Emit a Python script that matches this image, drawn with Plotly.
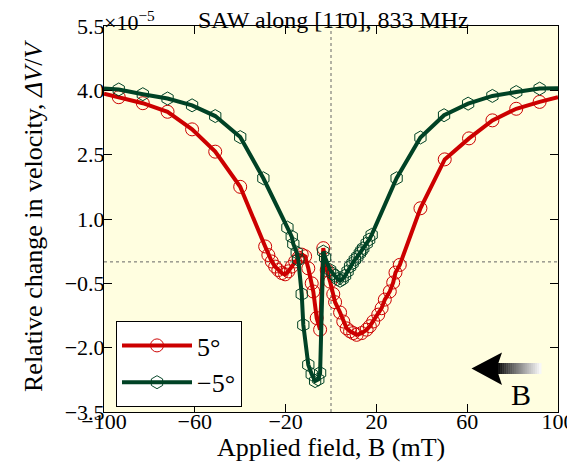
import plotly.graph_objects as go

# ---- data (values in units of 1e-5) ----
field_5deg = [-100, -93.5, -82.9, -72.0, -61.2, -51.0, -40.0,
              -29.0, -27.6, -26.1, -24.6, -23.2, -21.7, -20.2, -18.8, -17.3, -15.8, -14.3,
              -12.9, -11.4, -10.0, -8.5, -7.8, -6.3, -4.8, -3.4, -1.9, -0.4,
              1.0, 1.8, 4.0, 5.4, 6.9, 8.4, 9.8, 11.3, 13.5, 15.7, 17.1, 18.6, 20.8,
              22.3, 23.7, 25.9, 27.4, 28.4, 30.3,
              39.4, 50.1, 60.8, 71.1, 81.6, 91.9, 100]
dv_5deg = [3.92, 3.84, 3.70, 3.50, 3.09, 2.57, 1.75,
           0.36, 0.16, 0.01, -0.11, -0.19, -0.26, -0.29, -0.22, -0.11, 0.01, 0.10,
           0.17, 0.13, -0.15, -0.50, -0.69, -1.31, -1.58, 0.32, -0.19, -0.46,
           -0.75, -0.94, -1.18, -1.39, -1.55, -1.62, -1.66, -1.70, -1.66, -1.58, -1.50, -1.39, -1.23,
           -1.08, -0.88, -0.69, -0.48, -0.25, -0.07,
           1.25, 2.39, 2.88, 3.30, 3.57, 3.73, 3.84]

field_m5deg = [-100, -93.5, -82.9, -72.0, -61.2, -51.0, -40.0, -29.8,
               -19.2, -17.3, -16.6, -15.1, -14.4, -12.9, -12.2, -10.0, -8.5, -7.0, -5.6, -4.8,
               -3.4, -2.6, -0.4, 0.7, 1.8, 2.9, 4.0, 5.1, 6.2, 7.3, 8.4, 9.5, 10.5, 11.6,
               12.7, 13.4, 14.2, 15.7, 16.8, 17.9,
               28.9, 39.4, 49.8, 60.4, 71.1, 81.6, 91.9, 100]
dv_m5deg = [4.04, 4.02, 3.91, 3.81, 3.65, 3.40, 2.91, 1.95,
            0.80, 0.59, 0.42, 0.22, 0.05, -0.75, -1.47, -2.40, -2.62, -2.78, -2.74, -2.59,
            0.24, 0.10, -0.19, -0.27, -0.32, -0.40, -0.44, -0.40, -0.32, -0.22, -0.11, -0.03, 0.05, 0.12,
            0.20, 0.26, 0.32, 0.43, 0.52, 0.63,
            1.95, 2.90, 3.42, 3.69, 3.87, 3.96, 4.04, 4.05]

x_tickvals = [-100, -60, -20, 20, 60, 100]
x_ticktext = ["\u2212100", "\u221260", "\u221220", "20", "60", "100"]
y_tickvals = [-3.5, -2.0, -0.5, 1.0, 2.5, 4.0, 5.5]
y_ticktext = ["\u22123.5", "\u22122.0", "\u22120.5", "1.0", "2.5", "4.0", "5.5"]

names = ["5°", "\u22125°"]

FONT = "Liberation Serif"
RED = "#cc0000"
GREEN = "#004225"

# The page body adds an 8px offset; size the figure so it ends at the window edge.
OFF = 8
W, H = 575 - OFF, 468 - OFF
# plot area in window pixels: x 104..558, y 26..412
PX0, PX1, PY0, PY1 = 104, 558, 26, 412
ML, MR = PX0 - OFF, W - (PX1 - OFF)
MT, MB = PY0 - OFF, H - (PY1 - OFF)


def px(x):
    return (x - PX0) / (PX1 - PX0)


def py(y):
    return (PY1 - y) / (PY1 - PY0)


def edge_opacity(xs):
    return [0 if abs(v) >= 100 else 1 for v in xs]


fig = go.Figure()
fig.add_trace(go.Scatter(
    x=field_5deg, y=dv_5deg, name=names[0], mode="lines+markers",
    line=dict(color=RED, width=4),
    marker=dict(symbol="circle-open", size=13, color=RED,
                line=dict(width=1, color=RED), opacity=edge_opacity(field_5deg)),
))
fig.add_trace(go.Scatter(
    x=field_m5deg, y=dv_m5deg, name=names[1], mode="lines+markers",
    line=dict(color=GREEN, width=4),
    marker=dict(symbol="hexagon-open", size=13, color=GREEN,
                line=dict(width=1, color=GREEN), opacity=edge_opacity(field_m5deg)),
))

shapes = [
    dict(type="line", xref="x", yref="paper", x0=0, x1=0, y0=0, y1=1,
         line=dict(color="#666666", width=1, dash="dot"), layer="below"),
    dict(type="line", xref="paper", yref="y", x0=0, x1=1, y0=0, y1=0,
         line=dict(color="#666666", width=1, dash="dot"), layer="below"),
]
# gradient tail of the B arrow
n_strips = 22
x_start, x_end = 496.0, 541.0
sw = (x_end - x_start) / n_strips
for i in range(n_strips):
    g = int(round(255 * (i / (n_strips - 1)) ** 0.9 * 0.97))
    shapes.append(dict(type="rect", xref="paper", yref="paper",
                       x0=px(x_start + i * sw), x1=px(x_start + (i + 1) * sw + 0.5),
                       y0=py(374), y1=py(363),
                       fillcolor=f"rgb({g},{g},{g})", line=dict(width=0), layer="above"))
# arrow head
head = [(471.5, 368.5), (502, 352.5), (496.5, 368.5), (502, 385)]
path = "M " + " L ".join(f"{px(a):.5f},{py(b):.5f}" for a, b in head) + " Z"
shapes.append(dict(type="path", xref="paper", yref="paper", path=path,
                   fillcolor="black", line=dict(width=0), layer="above"))

annotations = [
    dict(text="SAW along [11\u03040], 833 MHz", xref="paper", yref="paper",
         x=px(333), y=1, xanchor="center", yanchor="bottom", yshift=-9,
         showarrow=False, font=dict(family=FONT, size=24, color="black")),
    dict(text="×10<sup>\u22125</sup>", xref="paper", yref="paper",
         x=0, y=1, xanchor="left", yanchor="bottom", yshift=-11, xshift=-2,
         showarrow=False, font=dict(family=FONT, size=22, color="black")),
    dict(text="Relative change in velocity, <i>ΔV</i>/<i>V</i>", xref="paper", yref="paper",
         x=px(33), y=py(394), xanchor="center", yanchor="bottom", textangle=-90,
         showarrow=False, font=dict(family=FONT, size=26, color="black")),
    dict(text="Applied field, B (mT)", xref="paper", yref="paper",
         x=px(331), y=py(448), xanchor="center", yanchor="middle",
         showarrow=False, font=dict(family=FONT, size=26, color="black")),
    dict(text="B", xref="paper", yref="paper", x=px(521), y=py(394),
         xanchor="center", yanchor="middle", showarrow=False,
         font=dict(family=FONT, size=30, color="black")),
]

axis_common = dict(
    ticks="inside", ticklen=8, tickwidth=1, tickcolor="black",
    showline=True, linecolor="black", linewidth=1, mirror="ticks",
    showgrid=False, zeroline=False, automargin=False,
    tickfont=dict(family=FONT, size=22, color="black"),
)

fig.update_layout(
    width=W, height=H, autosize=False,
    margin=dict(l=ML, r=MR, t=MT, b=MB, autoexpand=False),
    paper_bgcolor="white", plot_bgcolor="#fffee0",
    font=dict(family=FONT, color="black", size=22),
    xaxis=dict(range=[-100, 100], tickmode="array", tickvals=x_tickvals, ticktext=x_ticktext,
               ticklabelstandoff=-10, **axis_common),
    yaxis=dict(range=[-3.5, 5.5], tickmode="array", tickvals=y_tickvals, ticktext=y_ticktext,
               ticklabelstandoff=-6, **axis_common),
    legend=dict(x=px(116), y=py(321), xanchor="left", yanchor="top",
                bgcolor="white", bordercolor="black", borderwidth=1,
                font=dict(family=FONT, size=26, color="black"), itemwidth=70, tracegroupgap=0),
    shapes=shapes,
    annotations=annotations,
    showlegend=True,
)

fig.write_html("out.html")
